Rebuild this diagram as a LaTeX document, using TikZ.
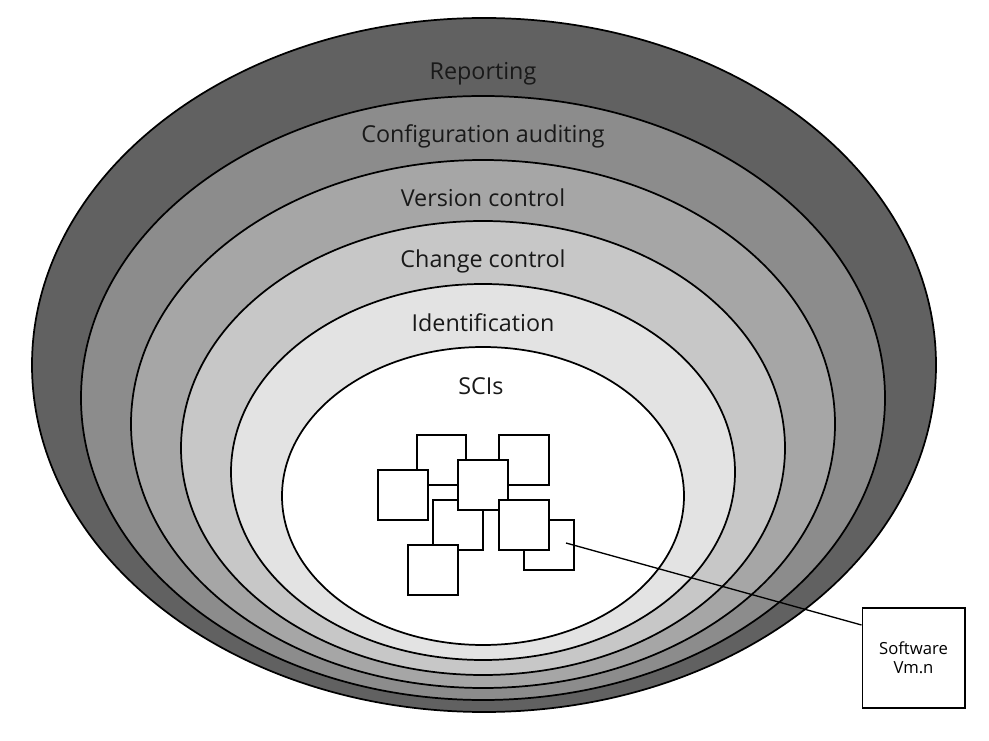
\documentclass[tikz,border=0pt]{standalone}
\usepackage{fontspec}
\setmainfont{Open Sans}
\begin{document}
\begin{tikzpicture}[x=0.75pt,y=-0.75pt,
  ring/.style={draw=black,line width=1.3pt},
  lbl/.style={font=\fontsize{17.5}{20}\selectfont,text=black!90},
  sci/.style={draw=black,fill=white,line width=1pt}]
\useasboundingbox (0,0) rectangle (989,741);
\draw[ring,fill=black!62] (484,365) ellipse [x radius=452,y radius=347];
\draw[ring,fill=black!45] (483,398) ellipse [x radius=402,y radius=302];
\draw[ring,fill=black!35] (483,424) ellipse [x radius=352,y radius=264];
\draw[ring,fill=black!22] (483,448) ellipse [x radius=302,y radius=227];
\draw[ring,fill=black!11] (483,472) ellipse [x radius=252,y radius=188];
\draw[ring,fill=white] (483,496) ellipse [x radius=201,y radius=149];
\node[lbl] (l1) at (483,74) {Reporting};
\node[lbl] (l2) at (483,136) {Configuration auditing};
\node[lbl] (l3) at (483,198) {Version control};
\node[lbl] (l4) at (483,261) {Change control};
\node[lbl] (l5) at (483,323) {Identification};
\node[lbl] (l6) at (481,386) {SCIs};
\draw[sci] (417,435) rectangle (466,485);
\draw[sci] (499,435) rectangle (549,485);
\draw[sci] (378,470) rectangle (428,520);
\draw[sci] (433,500) rectangle (483,550);
\draw[sci] (458,460) rectangle (508,510);
\draw[sci] (524,520) rectangle (574,570);
\draw[sci] (499,500) rectangle (549,550);
\draw[sci] (408,545) rectangle (458,595);
\coordinate (s) at (566,543);
\node[draw=black,fill=white,line width=1pt,minimum width=77pt,minimum height=75pt,align=center,font=\fontsize{12.5}{14}\selectfont,inner sep=1pt] (box) at (913.5,658) {Software\\Vm.n};
\draw[line width=1pt] (s) -- (box.west |- 0,625);
\end{tikzpicture}
\end{document}
